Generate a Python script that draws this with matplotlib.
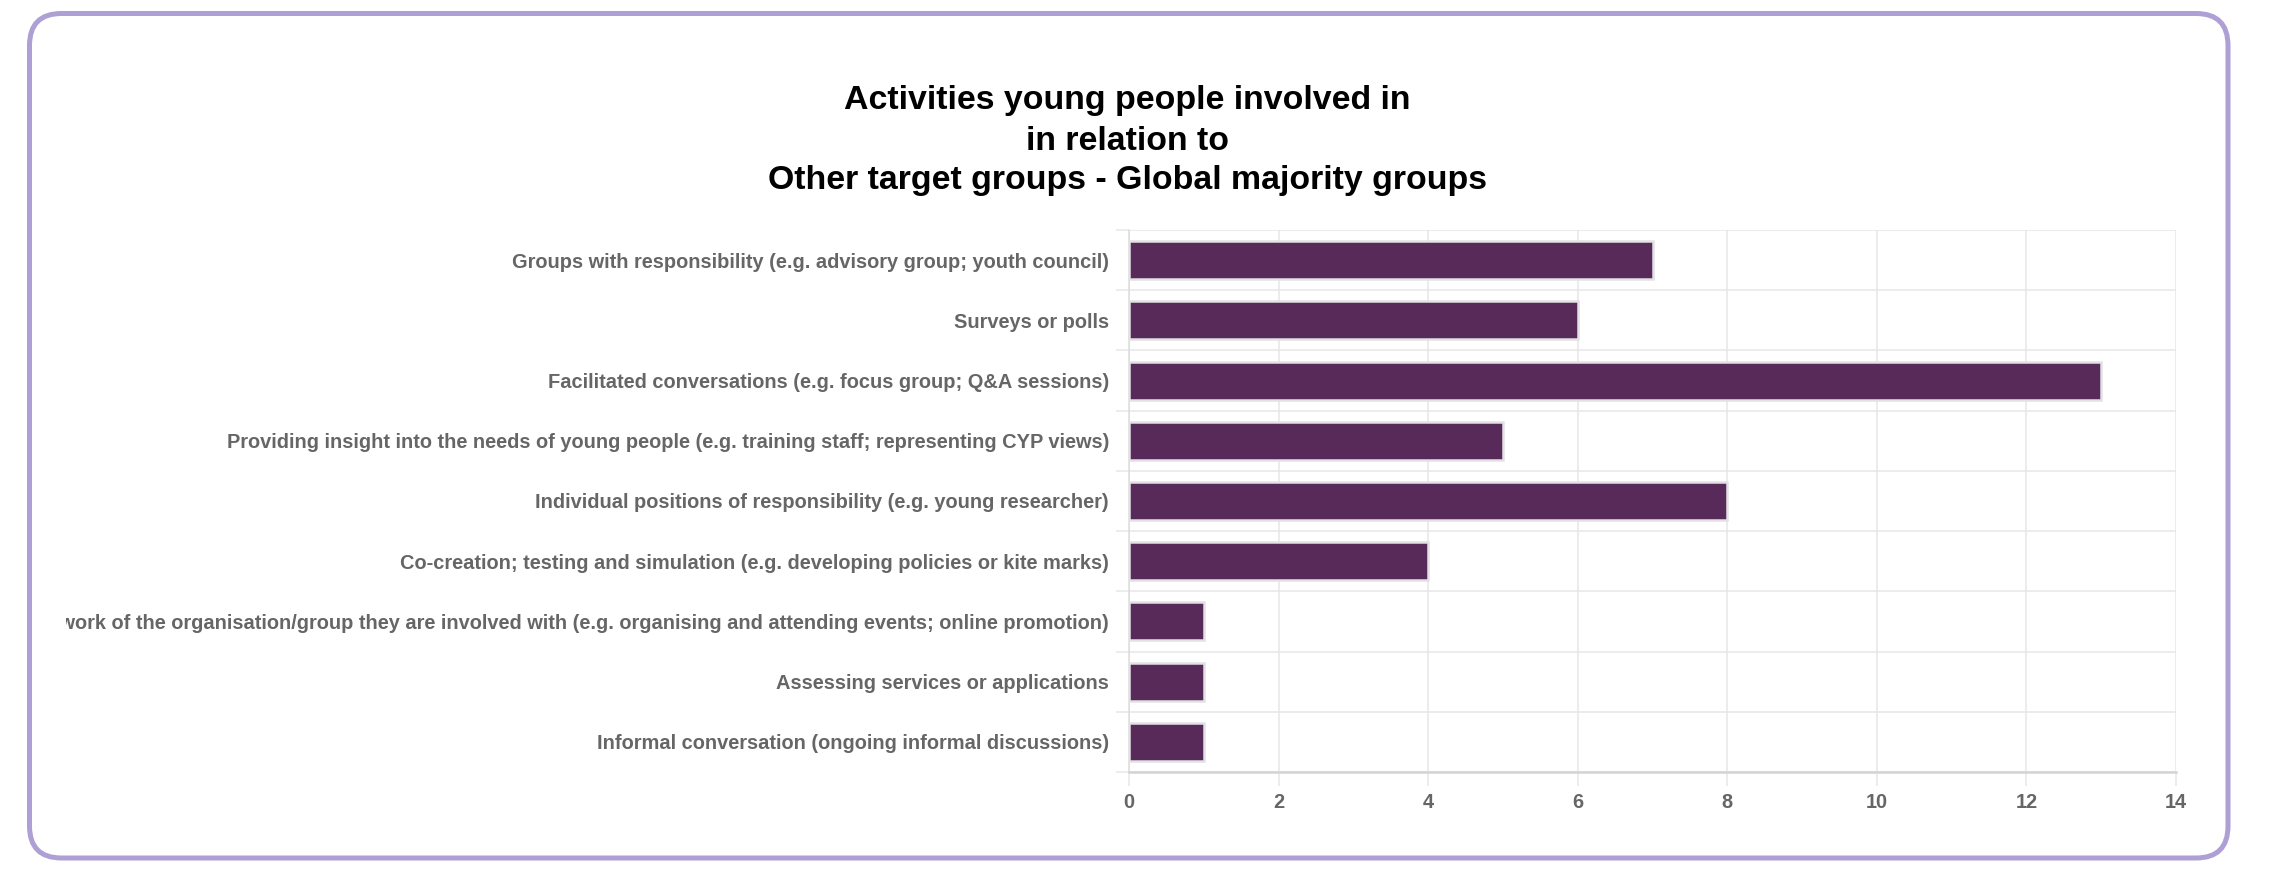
import matplotlib
matplotlib.use("Agg")
import matplotlib.pyplot as plt
from matplotlib.patches import FancyBboxPatch
from matplotlib.transforms import IdentityTransform, Bbox, TransformedBbox
from matplotlib.ticker import FixedLocator

plt.rcParams['font.family'] = ['Liberation Sans', 'DejaVu Sans']

categories = [
    "Groups with responsibility (e.g. advisory group; youth council)",
    "Surveys or polls",
    "Facilitated conversations (e.g. focus group; Q&A sessions)",
    "Providing insight into the needs of young people (e.g. training staff; representing CYP views)",
    "Individual positions of responsibility (e.g. young researcher)",
    "Co-creation; testing and simulation (e.g. developing policies or kite marks)",
    "Supporting the work of the organisation/group they are involved with (e.g. organising and attending events; online promotion)",
    "Assessing services or applications",
    "Informal conversation (ongoing informal discussions)",
]
values = [7, 6, 13, 5, 8, 4, 1, 1, 1]
x_ticks = [0, 2, 4, 6, 8, 10, 12, 14]
title_lines = [
    "Activities young people involved in",
    "in relation to",
    "Other target groups - Global majority groups",
]

W, H = 2270, 876
DPI = 100
fig = plt.figure(figsize=(W / DPI, H / DPI), dpi=DPI)
fig.patch.set_facecolor('white')

# rounded border (pixel coordinates)
border = FancyBboxPatch((29.5, H - 858), 2228 - 29.5, 858 - 13.5,
                        boxstyle="round,pad=0,rounding_size=32",
                        transform=IdentityTransform(), fill=False,
                        edgecolor='#ae9fd5', linewidth=5 * 72 / DPI)
fig.add_artist(border)

left, right, top, bottom = 1129, 2176, 230, 772
ax = fig.add_axes([left / W, 1 - bottom / H, (right - left) / W, (bottom - top) / H])

ypos = list(range(len(categories)))
ax.barh(ypos, values, height=0.63, color='#572a5a', edgecolor='#e3e1e5',
        linewidth=2.5 * 72 / DPI, zorder=3)

ax.set_xlim(0, 14)
ax.set_ylim(len(categories) - 0.5, -0.5)

ax.set_xticks(x_ticks)
ax.set_xticklabels([str(t) for t in x_ticks])
ax.set_yticks(ypos)
ax.set_yticklabels(categories)
ax.yaxis.set_minor_locator(FixedLocator([i + 0.5 for i in range(-1, len(categories))]))

grid_c = '#e6e6e6'
ax.grid(axis='x', which='major', color=grid_c, linewidth=1.5 * 72 / DPI, zorder=0)
ax.grid(axis='y', which='minor', color=grid_c, linewidth=1.5 * 72 / DPI, zorder=0)

for s in ['top', 'right']:
    ax.spines[s].set_visible(False)
ax.spines['left'].set_color('#dcdcdc')
ax.spines['left'].set_linewidth(1.5 * 72 / DPI)
ax.spines['bottom'].set_color('#d4d4d4')
ax.spines['bottom'].set_linewidth(2.5 * 72 / DPI)

ax.tick_params(axis='y', which='major', length=0, pad=20 * 72 / DPI,
               labelsize=14.4, labelcolor='#666666')
ax.tick_params(axis='y', which='minor', length=13 * 72 / DPI, color=grid_c,
               width=1.5 * 72 / DPI)
ax.tick_params(axis='x', which='major', length=14 * 72 / DPI, color=grid_c,
               width=1.5 * 72 / DPI, pad=7 * 72 / DPI, labelsize=14.4,
               labelcolor='#666666')
for lbl in ax.get_yticklabels() + ax.get_xticklabels():
    lbl.set_fontweight('bold')

clip = TransformedBbox(Bbox([[66 / W, 0], [1, 1]]), fig.transFigure)
for lbl in ax.get_yticklabels():
    lbl.set_clip_box(clip)
    lbl.set_clip_on(True)

baselines = [109.5, 150.0, 189.5]
for line, yb in zip(title_lines, baselines):
    fig.text(1127.5 / W, 1 - yb / H, line, ha='center', va='baseline',
             fontsize=24.4, fontweight='bold', color='#000000')

fig.savefig('out.png', dpi=DPI, facecolor='white')
